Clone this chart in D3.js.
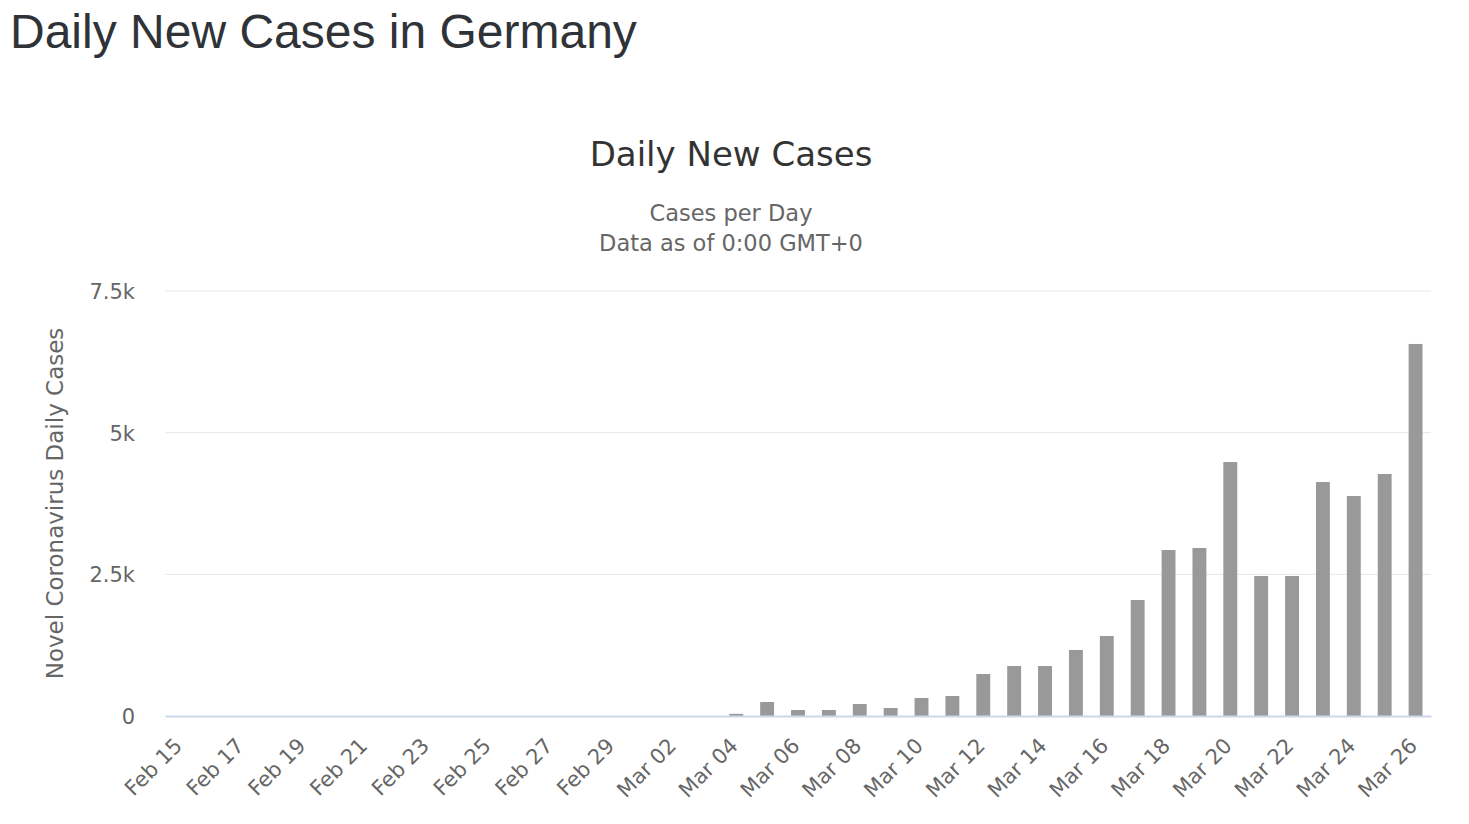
<!DOCTYPE html>
<html>
<head>
<meta charset="utf-8">
<script src="https://cdn.jsdelivr.net/npm/d3@7"></script>
<style>
  body { margin: 0; background: #fff; }
  svg { display: block; }
</style>
</head>
<body>
<script>
// data (Feb 15 .. Mar 26)
var dates = [
  'Feb 15', 'Feb 16', 'Feb 17', 'Feb 18', 'Feb 19', 'Feb 20', 'Feb 21', 'Feb 22',
  'Feb 23', 'Feb 24', 'Feb 25', 'Feb 26', 'Feb 27', 'Feb 28', 'Feb 29',
  'Mar 01', 'Mar 02', 'Mar 03', 'Mar 04', 'Mar 05', 'Mar 06', 'Mar 07', 'Mar 08',
  'Mar 09', 'Mar 10', 'Mar 11', 'Mar 12', 'Mar 13', 'Mar 14', 'Mar 15', 'Mar 16',
  'Mar 17', 'Mar 18', 'Mar 19', 'Mar 20', 'Mar 21', 'Mar 22', 'Mar 23', 'Mar 24',
  'Mar 25', 'Mar 26'
];
var dailyCases = [
  0, 0, 0, 0, 0, 0, 0, 0,
  0, 0, 0, 0, 0, 0, 0,
  0, 0, 0, 38, 247, 106, 106, 212,
  141, 318, 353, 741, 882, 882, 1165, 1412,
  2047, 2929, 2965, 4482, 2471, 2471, 4129, 3882,
  4271, 6565
];
var yTicks = [0, 2500, 5000, 7500];
var yTickLabels = ['0', '2.5k', '5k', '7.5k'];

var width  = 1469,
    height = 824;

var plot = {left: 165, right: 1431, top: 291, bottom: 716};

var svg = d3.select('body').append('svg')
    .attr('width', width)
    .attr('height', height);

var chartFont = '"DejaVu Sans", "Noto Sans", sans-serif';

// page heading
svg.append('text')
    .attr('x', 10)
    .attr('y', 48)
    .style('font-family', '"Liberation Sans", Arial, sans-serif')
    .style('font-size', '48px')
    .style('fill', '#2f3338')
    .text('Daily New Cases in Germany');

// chart titles, centred on the chart box rather than the plot
var cx = 731;
svg.append('text')
    .attr('x', cx)
    .attr('y', 166)
    .attr('text-anchor', 'middle')
    .style('font-family', chartFont)
    .style('font-size', '34px')
    .style('fill', '#333333')
    .text('Daily New Cases');

svg.append('text')
    .attr('x', cx)
    .attr('y', 221)
    .attr('text-anchor', 'middle')
    .style('font-family', chartFont)
    .style('font-size', '22.5px')
    .style('fill', '#666666')
    .text('Cases per Day');

svg.append('text')
    .attr('x', cx)
    .attr('y', 251)
    .attr('text-anchor', 'middle')
    .style('font-family', chartFont)
    .style('font-size', '22.5px')
    .style('fill', '#666666')
    .text('Data as of 0:00 GMT+0');

var x = d3.scaleBand()
    .domain(dates)
    .range([plot.left, plot.right])
    .paddingInner(0.55)
    .paddingOuter(0.275);

var y = d3.scaleLinear()
    .domain([0, 7500])
    .range([plot.bottom, plot.top]);

// gridlines
svg.append('g')
  .selectAll('line')
  .data(yTicks.filter(function(d) { return d > 0; }))
  .enter().append('line')
    .attr('x1', plot.left)
    .attr('x2', plot.right)
    .attr('y1', function(d) { return y(d); })
    .attr('y2', function(d) { return y(d); })
    .attr('stroke', '#e6e6e6')
    .attr('stroke-width', 1);

// y axis labels
var yAxis = d3.axisLeft(y)
    .tickValues(yTicks)
    .tickSize(0)
    .tickPadding(0)
    .tickFormat(function(d, i) { return yTickLabels[i]; });

var gy = svg.append('g')
    .attr('transform', 'translate(' + (plot.left - 30) + ',0)')
    .call(yAxis);
gy.select('.domain').remove();
gy.selectAll('text')
    .attr('dy', '0.35em')
    .style('font-family', chartFont)
    .style('font-size', '21px')
    .style('fill', '#666666');

svg.append('text')
    .attr('transform', 'translate(63,' + ((plot.top + plot.bottom) / 2) + ') rotate(-90)')
    .attr('text-anchor', 'middle')
    .style('font-family', chartFont)
    .style('font-size', '23px')
    .style('fill', '#666666')
    .text('Novel Coronavirus Daily Cases');

// bars
svg.append('g')
  .selectAll('rect')
  .data(dailyCases)
  .enter().append('rect')
    .attr('x', function(d, i) { return x(dates[i]); })
    .attr('width', x.bandwidth())
    .attr('y', function(d) { return y(d); })
    .attr('height', function(d) { return y(0) - y(d); })
    .attr('fill', '#999999');

// x axis
var xAxis = d3.axisBottom(x)
    .tickValues(dates.filter(function(d, i) { return i % 2 === 0; }))
    .tickSize(0)
    .tickPadding(0);

var gx = svg.append('g')
    .attr('transform', 'translate(0,' + plot.bottom + ')')
    .call(xAxis);
gx.select('.domain')
    .attr('stroke', '#ccd6eb')
    .attr('stroke-width', 2);
gx.selectAll('text')
    .attr('text-anchor', 'end')
    .attr('dy', null)
    .attr('transform', 'translate(3,31) rotate(-45)')
    .attr('y', 0)
    .style('font-family', chartFont)
    .style('font-size', '21px')
    .style('fill', '#666666');
</script>
</body>
</html>
